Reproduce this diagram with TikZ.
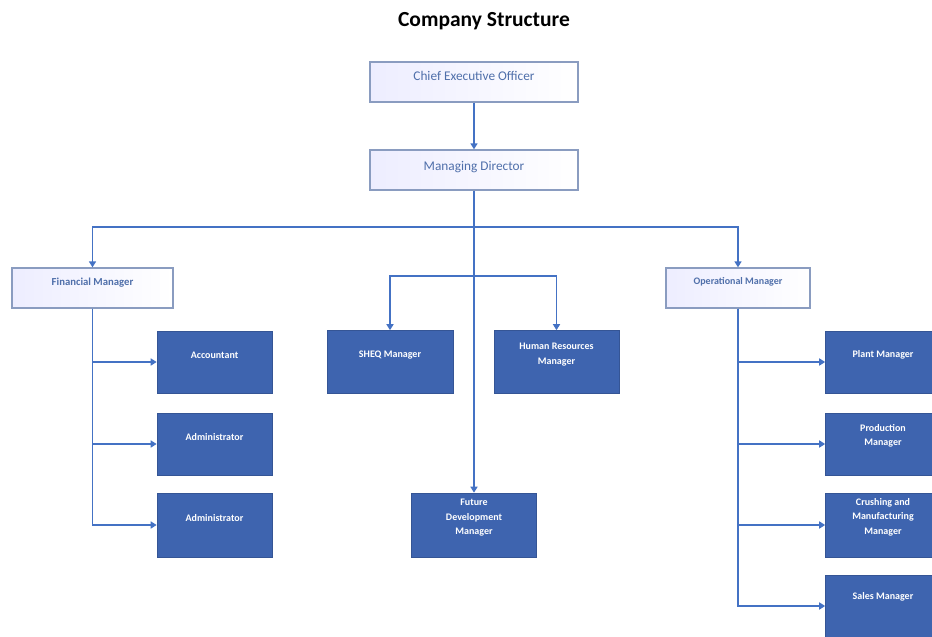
\documentclass[tikz,border=0pt]{standalone}
\usepackage{fontspec}
\setmainfont{Carlito}
\usetikzlibrary{arrows.meta}
\definecolor{darkfill}{HTML}{3E64AF}
\definecolor{linecol}{HTML}{4472C4}
\definecolor{lightborder}{HTML}{8A9CC0}
\definecolor{lighttext}{HTML}{4F6FAA}
\tikzset{
  lightbox/.style={draw=lightborder, line width=1.3pt, left color=blue!7!white, right color=white, inner sep=0pt},
  darkbox/.style={fill=darkfill, draw=darkfill!85!black, line width=0.6pt, inner sep=0pt, minimum width=115pt},
  ltext/.style={text=lighttext, align=center, inner sep=0pt},
  dtext/.style={text=white, font=\bfseries\fontsize{10}{14.5}\selectfont, align=center, inner sep=0pt},
  conn/.style={draw=linecol, line width=1.5pt, -{Triangle[width=7pt,length=6pt]}},
  plain/.style={draw=linecol, line width=1.5pt}
}
\begin{document}
\begin{tikzpicture}[x=1pt,y=-1pt]
\useasboundingbox (0,0) rectangle (932,637);
\clip (0,0) rectangle (932,637);
\fill[white] (0,0) rectangle (932,637);

\node[font=\bfseries\fontsize{21.5}{26}\selectfont, inner sep=0pt] (title) at (484,21) {Company Structure};

% light boxes
\node[lightbox, minimum width=208pt, minimum height=40pt] (ceo) at (474,82) {};
\node[lightbox, minimum width=208pt, minimum height=40pt] (md) at (474,170) {};
\node[lightbox, minimum width=161pt, minimum height=40pt] (fm) at (92.5,288) {};
\node[lightbox, minimum width=144pt, minimum height=40pt] (om) at (738,288) {};

\node[ltext, font=\fontsize{13.3}{16}\selectfont] at ([yshift=6.5pt]ceo.center) {Chief Executive Officer};
\node[ltext, font=\fontsize{13.3}{16}\selectfont] at ([yshift=3pt]md.center) {Managing Director};
\node[ltext, font=\bfseries\fontsize{10.7}{13}\selectfont] at ([yshift=5pt]fm.center) {Financial Manager};
\node[ltext, font=\bfseries\fontsize{10}{12}\selectfont] at ([yshift=6pt]om.center) {Operational Manager};

% dark boxes
\node[darkbox, minimum width=126pt, minimum height=63pt] (sheq) at (390,362) {};
\node[darkbox, minimum width=125pt, minimum height=63pt] (hr) at (556.5,362) {};
\node[darkbox, minimum width=125pt, minimum height=64pt] (fut) at (474,525) {};
\node[darkbox, minimum height=62pt] (acc) at (214.5,362) {};
\node[darkbox, minimum height=62pt] (adm1) at (214.5,444) {};
\node[darkbox, minimum height=64pt] (adm2) at (214.5,525) {};
\node[darkbox, minimum height=62pt] (plant) at (883,362) {};
\node[darkbox, minimum height=62pt] (prod) at (883,444) {};
\node[darkbox, minimum height=64pt] (crush) at (883,525) {};
\node[darkbox, minimum height=62pt] (sales) at (883,606) {};

\node[dtext] at ([yshift=7pt]sheq.center) {SHEQ Manager};
\node[dtext] at ([yshift=7.5pt]hr.center) {Human Resources\\Manager};
\node[dtext] at ([yshift=7pt]fut.center) {Future\\Development\\Manager};
\node[dtext] at ([yshift=7pt]acc.center) {Accountant};
\node[dtext] at ([yshift=7pt]adm1.center) {Administrator};
\node[dtext] at ([yshift=7pt]adm2.center) {Administrator};
\node[dtext] at ([yshift=7pt]plant.center) {Plant Manager};
\node[dtext] at ([yshift=8pt]prod.center) {Production\\Manager};
\node[dtext] at ([yshift=8pt]crush.center) {Crushing and\\Manufacturing\\Manager};
\node[dtext] at ([yshift=9pt]sales.center) {Sales Manager};

% connectors
\coordinate (jm) at (474,227);
\coordinate (js) at (474,276);
\draw[conn] (ceo) -- (md);
\draw[conn] (md.south) -- (fut.north);
\draw[conn] (jm) -| (fm.north);
\draw[conn] (jm) -| (om.north);
\draw[conn] (js) -| (sheq.north);
\draw[conn] (js) -| (hr.north);

\draw[conn] (fm.south) |- (acc.west);
\draw[conn] (fm.south) |- (adm1.west);
\draw[conn] (fm.south) |- (adm2.west);

\draw[conn] (om.south) |- (plant.west);
\draw[conn] (om.south) |- (prod.west);
\draw[conn] (om.south) |- (crush.west);
\draw[conn] (om.south) |- (sales.west);
\end{tikzpicture}
\end{document}
